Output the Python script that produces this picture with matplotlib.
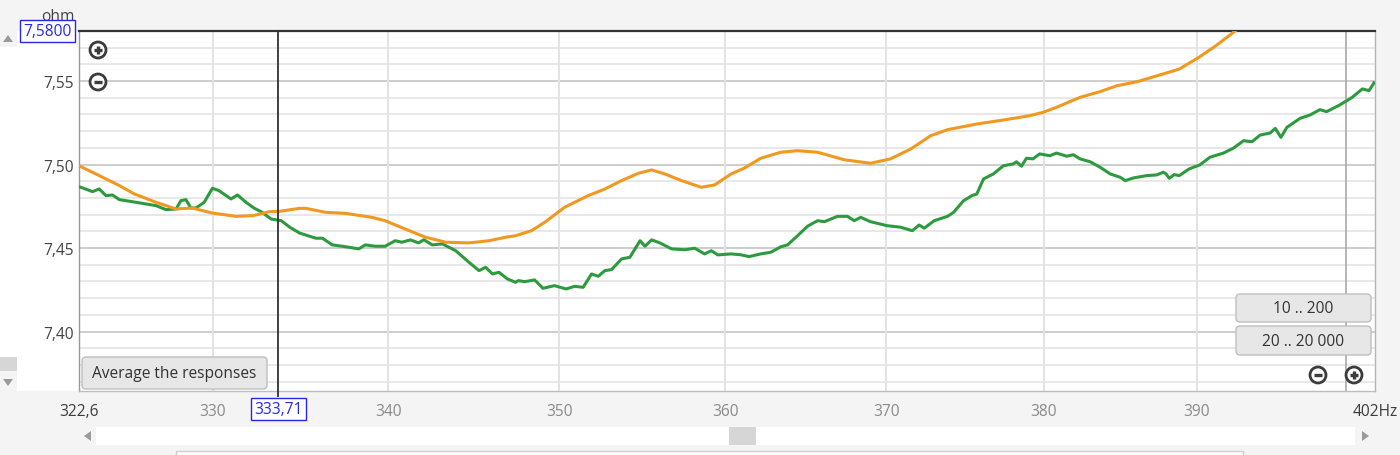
import matplotlib
matplotlib.use('Agg')
import matplotlib.pyplot as plt
from matplotlib.patches import Rectangle, FancyBboxPatch, Circle, Polygon
from matplotlib.ticker import FixedLocator, NullLocator, FixedFormatter, NullFormatter
import matplotlib.transforms as mtransforms

plt.rcParams['font.family'] = ['Open Sans', 'DejaVu Sans']

# ---------------- data ----------------
orange_f = [322.6, 323.71, 324.82, 325.65, 326.85, 327.96, 328.86, 329.97, 331.31, 332.26,
            333.21, 333.78, 334.91, 335.26, 336.39, 337.53, 339.05, 339.81, 340.97, 342.15,
            343.32, 344.68, 345.86, 346.83, 347.42, 348.36, 349.14, 350.32, 351.73, 352.73,
            353.73, 354.74, 355.54, 356.34, 357.35, 358.55, 359.36, 360.37, 361.16, 362.19,
            363.43, 364.46, 365.70, 367.35, 369.00, 370.25, 371.52, 372.79, 373.86, 375.72,
            377.42, 379.12, 379.97, 380.84, 382.37, 383.67, 384.76, 386.07, 387.81, 388.86,
            390.17, 391.29, 392.51, 393.3]
orange_v = [7.4993, 7.4934, 7.4874, 7.4824, 7.4774, 7.4734, 7.4740, 7.4710, 7.4690, 7.4694,
            7.4718, 7.4720, 7.4738, 7.4738, 7.4714, 7.4708, 7.4684, 7.4664, 7.4614, 7.4565,
            7.4535, 7.4531, 7.4544, 7.4565, 7.4574, 7.4604, 7.4654, 7.4744, 7.4814, 7.4854,
            7.4904, 7.4948, 7.4968, 7.4944, 7.4904, 7.4864, 7.4878, 7.4944, 7.4978, 7.5038,
            7.5074, 7.5083, 7.5074, 7.5029, 7.5008, 7.5034, 7.5093, 7.5173, 7.5209, 7.5243,
            7.5267, 7.5293, 7.5313, 7.5343, 7.5403, 7.5437, 7.5472, 7.5496, 7.5543, 7.5572,
            7.5643, 7.5712, 7.5796, 7.586]

green_f = [322.6, 323.34, 323.71, 324.08, 324.44, 324.82, 325.74, 326.85, 327.40, 327.96,
           328.23, 328.51, 328.79, 329.07, 329.53, 329.99, 330.36, 331.03, 331.40, 331.88,
           332.35, 332.73, 333.30, 333.87, 334.35, 334.91, 335.26, 335.83, 336.21, 336.78,
           337.35, 337.72, 338.29, 338.67, 339.24, 339.81, 340.39, 340.78, 341.27, 341.75,
           342.05, 342.54, 343.13, 343.91, 344.68, 345.27, 345.66, 346.06, 346.44, 346.94,
           347.42, 347.58, 347.96, 348.55, 349.04, 349.72, 350.42, 350.92, 351.43, 351.93,
           352.33, 352.73, 353.13, 353.73, 354.23, 354.84, 355.14, 355.54, 356.04, 356.75,
           357.55, 358.15, 358.75, 359.16, 359.56, 360.37, 360.95, 361.47, 362.19, 362.81,
           363.43, 363.84, 364.46, 365.08, 365.70, 366.12, 366.94, 367.56, 367.98, 368.39,
           369.00, 370.04, 370.89, 371.63, 372.06, 372.38, 373.01, 373.86, 374.24, 374.88,
           375.41, 375.72, 376.15, 376.78, 377.42, 378.05, 378.26, 378.58, 378.90, 379.32,
           379.75, 380.41, 380.84, 381.50, 381.93, 382.37, 383.02, 383.67, 384.33, 384.98,
           385.31, 385.85, 386.72, 387.37, 387.81, 387.99, 388.20, 388.53, 388.86, 389.51,
           390.22, 390.89, 391.79, 392.46, 393.13, 393.69, 394.24, 394.91, 395.25, 395.63,
           396.03, 396.92, 397.59, 398.26, 398.71, 399.60, 400.45, 401.14, 401.59, 401.93]
green_v = [7.4868, 7.4838, 7.4854, 7.4814, 7.4818, 7.4790, 7.4774, 7.4754, 7.4730, 7.4734,
           7.4784, 7.4790, 7.4740, 7.4740, 7.4774, 7.4858, 7.4844, 7.4794, 7.4818, 7.4774,
           7.4738, 7.4718, 7.4674, 7.4664, 7.4625, 7.4590, 7.4578, 7.4559, 7.4559, 7.4519,
           7.4511, 7.4505, 7.4495, 7.4519, 7.4511, 7.4511, 7.4544, 7.4535, 7.4549, 7.4531,
           7.4550, 7.4519, 7.4525, 7.4484, 7.4415, 7.4365, 7.4385, 7.4345, 7.4355, 7.4315,
           7.4295, 7.4305, 7.4299, 7.4309, 7.4259, 7.4275, 7.4255, 7.4271, 7.4265, 7.4345,
           7.4331, 7.4365, 7.4371, 7.4435, 7.4445, 7.4544, 7.4511, 7.4549, 7.4531, 7.4495,
           7.4490, 7.4499, 7.4465, 7.4484, 7.4459, 7.4465, 7.4460, 7.4449, 7.4465, 7.4475,
           7.4508, 7.4519, 7.4574, 7.4631, 7.4664, 7.4658, 7.4690, 7.4690, 7.4664, 7.4684,
           7.4658, 7.4634, 7.4625, 7.4604, 7.4638, 7.4619, 7.4664, 7.4690, 7.4714, 7.4784,
           7.4814, 7.4824, 7.4914, 7.4944, 7.4993, 7.5004, 7.5017, 7.4990, 7.5038, 7.5034,
           7.5064, 7.5053, 7.5069, 7.5050, 7.5059, 7.5034, 7.5017, 7.4984, 7.4944, 7.4924,
           7.4904, 7.4920, 7.4934, 7.4938, 7.4954, 7.4944, 7.4918, 7.4940, 7.4934, 7.4974,
           7.4998, 7.5044, 7.5069, 7.5099, 7.5143, 7.5137, 7.5177, 7.5189, 7.5217, 7.5163,
           7.5223, 7.5277, 7.5297, 7.5329, 7.5317, 7.5357, 7.5403, 7.5453, 7.5443, 7.5489]

x_ticks = [322.6, 330, 340, 350, 360, 370, 380, 390, 402]
x_labels = ['322,6', '330', '340', '350', '360', '370', '380', '390', '402Hz']
x_grid = [330, 340, 350, 360, 370, 380, 390]
x_grid_dark = [400]
y_major = [7.40, 7.45, 7.50, 7.55]
y_labels = ['7,40', '7,45', '7,50', '7,55']
y_minor = [7.37, 7.38, 7.39, 7.41, 7.42, 7.43, 7.44, 7.46, 7.47, 7.48, 7.49,
           7.51, 7.52, 7.53, 7.54, 7.56, 7.57]
x_min, x_max = 322.6, 402.0
y_min, y_max = 7.3644, 7.58
cursor_f = 333.71
cursor_label = '333,71'
top_label = '7,5800'
unit_label = 'ohm'
button_labels = ['Average the responses', '10 .. 200', '20 .. 20 000']

# ---------------- figure ----------------
W, H = 1400, 456
FS = 11.2
fig = plt.figure(figsize=(14, 4.56), dpi=100)
fig.patch.set_facecolor('#f4f4f4')

# background panels (pixel coordinates)
bg = fig.add_axes([0, 0, 1, 1], zorder=0)
bg.set_xlim(0, W); bg.set_ylim(H, 0); bg.axis('off')
bg.add_patch(Rectangle((17, 32), 62, 360, facecolor='white', edgecolor='none'))
bg.add_patch(Rectangle((0, 48), 17, 310, facecolor='white', edgecolor='none'))
bg.add_patch(Rectangle((0, 358), 17, 14, facecolor='#d6d6d6', edgecolor='none'))
bg.add_patch(Polygon([(3, 43), (13, 43), (8, 36)], closed=True, facecolor='#9a9a9a', edgecolor='none'))
bg.add_patch(Polygon([(3, 380), (13, 380), (8, 387)], closed=True, facecolor='#9a9a9a', edgecolor='none'))
# horizontal scrollbar
bg.add_patch(Rectangle((96, 428), 1259, 18, facecolor='white', edgecolor='none'))
bg.add_patch(Rectangle((729, 428), 27, 18, facecolor='#d6d6d6', edgecolor='none'))
bg.add_patch(Polygon([(91, 432), (91, 442), (84, 437)], closed=True, facecolor='#9a9a9a', edgecolor='none'))
bg.add_patch(Polygon([(1362, 432), (1362, 442), (1369, 437)], closed=True, facecolor='#9a9a9a', edgecolor='none'))
bg.add_patch(Rectangle((176, 452), 1067, 10, facecolor='white', edgecolor='#cfcfcf', lw=1))
# unit label, partly hidden behind the top value box
bg.text(75, 21, unit_label, ha='right', va='baseline', fontsize=FS, color='#444444')

# ---------------- main axes ----------------
ax = fig.add_axes([79 / W, (H - 392) / H, 1296 / W, 360 / H], zorder=1)
ax.set_facecolor('white')
ax.set_xscale('log')
ax.set_xlim(x_min, x_max)
ax.set_ylim(y_min, y_max)

ax.xaxis.set_major_locator(FixedLocator(x_ticks))
ax.xaxis.set_major_formatter(FixedFormatter(x_labels))
ax.xaxis.set_minor_locator(NullLocator())
ax.xaxis.set_minor_formatter(NullFormatter())
ax.yaxis.set_major_locator(FixedLocator(y_major))
ax.yaxis.set_major_formatter(FixedFormatter(y_labels))
ax.yaxis.set_minor_locator(NullLocator())

ax.tick_params(axis='x', length=0, pad=9, labelsize=FS, labelcolor='#8a8a8a')
ax.tick_params(axis='y', length=0, pad=3.6, labelsize=FS, labelcolor='#444444')
xt = ax.get_xticklabels()
xt[0].set_color('#3c3c3c')
xt[-1].set_color('#3c3c3c')

# grid
for v in y_minor:
    ax.axhline(v, color='#e8e8e8', lw=1.4, zorder=0.5)
for v in y_major:
    ax.axhline(v, color='#cdcdcd', lw=1.4, zorder=0.6)
for f in x_grid:
    ax.axvline(f, color='#e3e3e3', lw=1.4, zorder=0.7)
for f in x_grid_dark:
    ax.axvline(f, color='#a9a9a9', lw=1.2, zorder=0.7)

for side, col, lw in [('top', '#333333', 1.6), ('left', '#9a9a9a', 1.0),
                      ('bottom', '#bdbdbd', 1.0), ('right', '#b5b5b5', 1.0)]:
    ax.spines[side].set_color(col)
    ax.spines[side].set_linewidth(lw)

# curves
ax.plot(green_f, green_v, color='#2e9a3f', lw=2.2, zorder=3, solid_joinstyle='round')
ax.plot(orange_f, orange_v, color='#f0981f', lw=2.2, zorder=4, solid_joinstyle='round')

# cursor
ax.axvline(cursor_f, ymin=-0.014, ymax=1, color='#303030', lw=1.3, zorder=5, clip_on=False)
trans = mtransforms.blended_transform_factory(ax.transData, ax.transAxes)
ax.text(cursor_f, -0.05, cursor_label, transform=trans, ha='center', va='center',
        fontsize=FS, color='#2828e6', zorder=6,
        bbox=dict(boxstyle='square,pad=0.2', facecolor='white', edgecolor='#2828e6', lw=1.0))

# top value label
ax.text(-0.0055, y_max, top_label,
        transform=mtransforms.blended_transform_factory(ax.transAxes, ax.transData),
        ha='right', va='center', fontsize=FS, color='#2828e6', zorder=6, clip_on=False,
        bbox=dict(boxstyle='square,pad=0.2', facecolor='white', edgecolor='#2828e6', lw=1.0))

# ---------------- overlay UI (pixel coordinates) ----------------
ov = fig.add_axes([0, 0, 1, 1], zorder=10)
ov.set_xlim(0, W); ov.set_ylim(H, 0); ov.axis('off')
ov.patch.set_alpha(0)


def button(x0, y0, w, h, label):
    ov.add_patch(FancyBboxPatch((x0, y0), w, h, boxstyle='round,pad=0,rounding_size=4',
                                facecolor='#e7e7e7', edgecolor='#bfbfbf', lw=1.0))
    ov.text(x0 + w / 2, y0 + h / 2 + 0.5, label, ha='center', va='center', fontsize=FS,
            color='#333333')


button(82, 358, 185, 32, button_labels[0])
button(1236, 295, 135, 28, button_labels[1])
button(1236, 327, 135, 29, button_labels[2])


def zoom_icon(cx, cy, plus):
    ov.add_patch(Circle((cx, cy), 8.0, facecolor='white', edgecolor='#3c3c3c', lw=2.0))
    ov.plot([cx - 4.2, cx + 4.2], [cy, cy], color='#3c3c3c', lw=2.4, solid_capstyle='butt')
    if plus:
        ov.plot([cx, cx], [cy - 4.2, cy + 4.2], color='#3c3c3c', lw=2.4, solid_capstyle='butt')


zoom_icon(98, 51, True)
zoom_icon(98, 83, False)
zoom_icon(1318, 376, False)
zoom_icon(1354, 376, True)

fig.savefig('out.png', dpi=100, facecolor=fig.get_facecolor())
